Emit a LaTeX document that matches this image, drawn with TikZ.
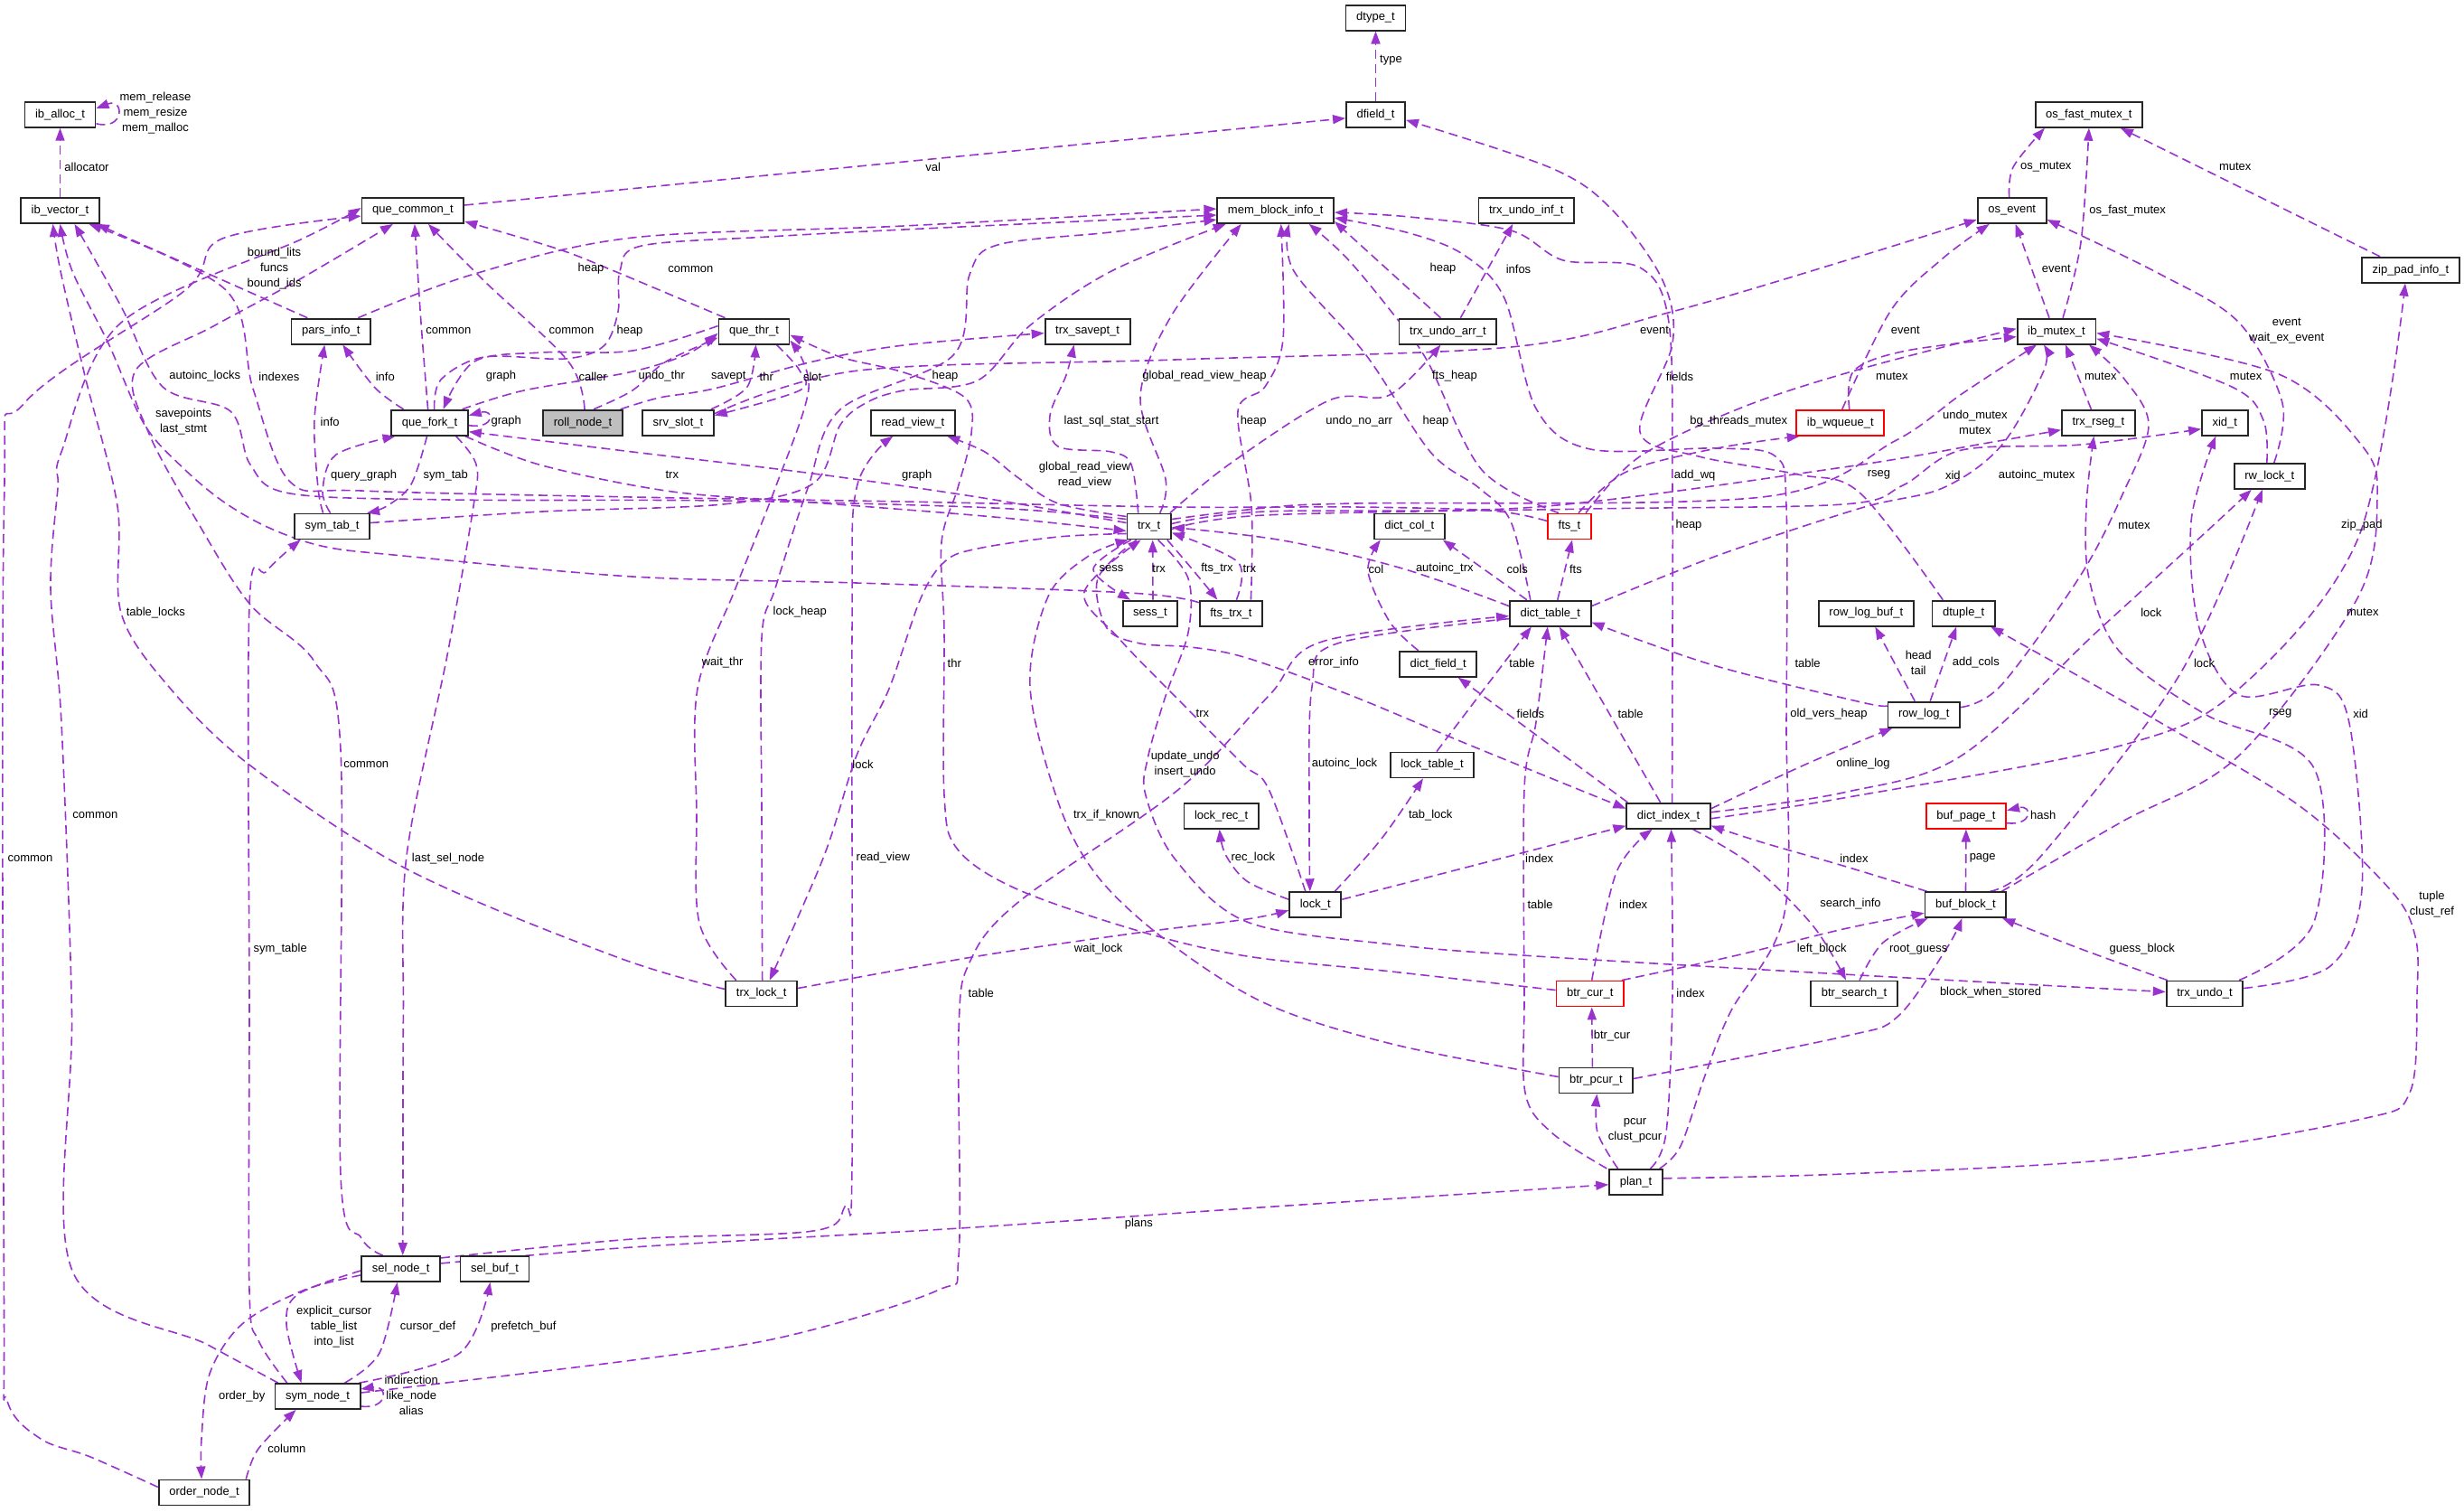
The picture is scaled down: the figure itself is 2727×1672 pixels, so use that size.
\documentclass[tikz,border=0pt]{standalone}
\usepackage{fontspec}
\setmainfont{Liberation Sans}
\usetikzlibrary{arrows.meta,calc}
\definecolor{ecol}{HTML}{9A32CD}
\pgfdeclarelayer{bg}
\pgfsetlayers{bg,main}
\newcommand\gf{\fontsize{6.5}{8.5}\selectfont}
\newcommand\pe[1]{\draw[ed] plot[smooth,tension=0.55] coordinates {#1};}
\tikzset{
 nb/.style={draw=black!85, line width=0.9pt, minimum height=14pt, inner xsep=5.8pt, inner ysep=0pt, font=\gf, fill=white},
 rb/.style={nb, draw=red},
 lb/.style={font=\gf, inner sep=0pt, align=center},
 ed/.style={draw=ecol, line width=0.8pt, dash pattern=on 5pt off 2.8pt, -{Triangle[length=7pt,width=5pt]}},
}
\begin{document}
\begin{tikzpicture}[x=0.5pt,y=-0.5pt]
\useasboundingbox (0,0) rectangle (2727,1672);
% ---------------- nodes
\node[nb] (alloc) at (66.5,126.8) {ib\_alloc\_t};
\node[nb] (vec) at (66.5,233) {ib\_vector\_t};
\node[nb] (qcom) at (456.9,233) {que\_common\_t};
\node[nb] (mem) at (1411.7,233) {mem\_block\_info\_t};
\node[nb] (dtype) at (1522.5,19.6) {dtype\_t};
\node[nb] (dfield) at (1522.5,126.8) {dfield\_t};
\node[nb] (undoinf) at (1689.3,233) {trx\_undo\_inf\_t};
\node[nb] (osev) at (2226.7,233) {os\_event};
\node[nb] (osfm) at (2311.9,126.8) {os\_fast\_mutex\_t};
\node[nb] (zip) at (2668,298.7) {zip\_pad\_info\_t};
\node[nb] (pars) at (366.3,366.6) {pars\_info\_t};
\node[nb] (qthr) at (834.5,366.6) {que\_thr\_t};
\node[nb] (savept) at (1203.6,366.6) {trx\_savept\_t};
\node[nb] (undoarr) at (1602.4,366.6) {trx\_undo\_arr\_t};
\node[nb] (mutex) at (2276,366.6) {ib\_mutex\_t};
\node[nb] (qfork) at (475.6,467.7) {que\_fork\_t};
\node[nb,fill=gray!50] (roll) at (645,467.7) {roll\_node\_t};
\node[nb] (slot) at (750.5,467.7) {srv\_slot\_t};
\node[nb] (rview) at (1010.3,467.7) {read\_view\_t};
\node[rb] (wq) at (2036.8,467.7) {ib\_wqueue\_t};
\node[nb] (rseg) at (2322.4,467.7) {trx\_rseg\_t};
\node[nb] (xid) at (2462.3,467.7) {xid\_t};
\node[nb] (rw) at (2511.8,526.9) {rw\_lock\_t};
\node[nb] (symtab) at (367.6,582.5) {sym\_tab\_t};
\node[nb] (trx) at (1271.7,582.5) {trx\_t};
\node[nb] (col) at (1559.8,582.5) {dict\_col\_t};
\node[rb] (fts) at (1737,582.5) {fts\_t};
\node[nb] (sess) at (1273,678.6) {sess\_t};
\node[nb] (ftstrx) at (1362.4,678.6) {fts\_trx\_t};
\node[nb] (table) at (1715.8,678.6) {dict\_table\_t};
\node[nb] (rlbuf) at (2065.3,678.6) {row\_log\_buf\_t};
\node[nb] (dtuple) at (2173.2,678.6) {dtuple\_t};
\node[nb] (field) at (1591.7,734.7) {dict\_field\_t};
\node[nb] (rlog) at (2129.2,790.6) {row\_log\_t};
\node[nb] (ltab) at (1585,846.4) {lock\_table\_t};
\node[nb] (lrec) at (1351.7,902.7) {lock\_rec\_t};
\node[nb] (index) at (1846.6,902.7) {dict\_index\_t};
\node[rb] (page) at (2176,902.7) {buf\_page\_t};
\node[nb] (lock) at (1455.8,1001.2) {lock\_t};
\node[nb] (block) at (2175.4,1001.2) {buf\_block\_t};
\node[nb] (trxlock) at (842.7,1099.5) {trx\_lock\_t};
\node[rb] (btrcur) at (1759.7,1099.5) {btr\_cur\_t};
\node[nb] (bsearch) at (2052,1099.5) {btr\_search\_t};
\node[nb] (undo) at (2440,1099.5) {trx\_undo\_t};
\node[nb] (pcur) at (1766.4,1195.5) {btr\_pcur\_t};
\node[nb] (plan) at (1810.5,1307.8) {plan\_t};
\node[nb] (sel) at (443.7,1403.9) {sel\_node\_t};
\node[nb] (selbuf) at (547.5,1403.9) {sel\_buf\_t};
\node[nb] (symnode) at (351.6,1545) {sym\_node\_t};
\node[nb] (order) at (226.1,1651.5) {order\_node\_t};
% ---------------- labels
\node[lb] (l1) at (172,125) {mem\_release\\mem\_resize\\mem\_malloc};
\node[lb] (l2) at (96,184.6) {allocator};
\node[lb] (l3) at (1539.5,66.8) {type};
\node[lb] (l4) at (1032.7,184.6) {val};
\node[lb] (l5) at (2264.3,184.6) {os\_mutex};
\node[lb] (l6) at (2473.7,184.6) {mutex};
\node[lb] (l7) at (2354.6,232.8) {os\_fast\_mutex};
\node[lb] (l8) at (2275.7,297.5) {event};
\node[lb] (l9) at (2530.7,365.6) {event\\wait\_ex\_event};
\node[lb] (l10) at (2108.8,365.7) {event};
\node[lb] (l11) at (1831,365.7) {event};
\node[lb] (l12) at (2093.9,416.4) {mutex};
\node[lb] (l13) at (2324.8,416.4) {mutex};
\node[lb] (l14) at (2485.6,416.4) {mutex};
\node[lb] (l15) at (2185.9,466.9) {undo\_mutex\\mutex};
\node[lb] (l16) at (2254.2,525.7) {autoinc\_mutex};
\node[lb] (l17) at (2079.4,525.7) {rseg};
\node[lb] (l18) at (2161.4,525.7) {xid};
\node[lb] (l19) at (1875.6,525.7) {add\_wq};
\node[lb] (l20) at (1924.3,466.4) {bg\_threads\_mutex};
\node[lb] (l21) at (303.6,297.5) {bound\_lits\\funcs\\bound\_ids};
\node[lb] (l22) at (654,297.5) {heap};
\node[lb] (l23) at (496.4,365.7) {common};
\node[lb] (l24) at (632.5,365.7) {common};
\node[lb] (l25) at (697,365.7) {heap};
\node[lb] (l26) at (226.8,416.4) {autoinc\_locks};
\node[lb] (l27) at (308.9,416.4) {indexes};
\node[lb] (l28) at (426.3,416.4) {info};
\node[lb] (l29) at (554.4,416.4) {graph};
\node[lb] (l30) at (656.2,416.4) {caller};
\node[lb] (l31) at (203.1,466.9) {savepoints\\last\_stmt};
\node[lb] (l32) at (365.2,466.4) {info};
\node[lb] (l33) at (560.2,466.4) {graph};
\node[lb] (l34) at (402.7,525.7) {query\_graph};
\node[lb] (l35) at (493.3,525.7) {sym\_tab};
\node[lb] (l36) at (764.4,297.8) {common};
\node[lb] (l37) at (732.2,416.4) {undo\_thr};
\node[lb] (l38) at (806.3,416.4) {savept};
\node[lb] (l39) at (848.3,416.4) {thr};
\node[lb] (l40) at (899.2,416.4) {slot};
\node[lb] (l41) at (1046,416.4) {heap};
\node[lb] (l42) at (1230,466.4) {last\_sql\_stat\_start};
\node[lb] (l43) at (1333,416.4) {global\_read\_view\_heap};
\node[lb] (l44) at (1014.8,525.7) {graph};
\node[lb] (l45) at (1200.5,525.6) {global\_read\_view\\read\_view};
\node[lb] (l46) at (743.8,525.7) {trx};
\node[lb] (l47) at (1597,297.5) {heap};
\node[lb] (l48) at (1680.5,297.5) {infos};
\node[lb] (l49) at (1610,416.4) {fts\_heap};
\node[lb] (l50) at (1859,416.4) {fields};
\node[lb] (l51) at (1387.2,466.4) {heap};
\node[lb] (l52) at (1504.2,466.4) {undo\_no\_arr};
\node[lb] (l53) at (1589,466.4) {heap};
\node[lb] (l54) at (172.3,677.6) {table\_locks};
\node[lb] (l55) at (405.3,845.9) {common};
\node[lb] (l56) at (105.4,901.8) {common};
\node[lb] (l57) at (33.5,949.9) {common};
\node[lb] (l58) at (496,949.9) {last\_sel\_node};
\node[lb] (l59) at (310.2,1050.5) {sym\_table};
\node[lb] (l60) at (1230,629.5) {sess};
\node[lb] (l61) at (1282.6,629.5) {trx};
\node[lb] (l62) at (1347,629.5) {fts\_trx};
\node[lb] (l63) at (1382.8,629.5) {trx};
\node[lb] (l64) at (885.3,677.6) {lock\_heap};
\node[lb] (l65) at (799.6,733.5) {wait\_thr};
\node[lb] (l66) at (1056.3,733.5) {thr};
\node[lb] (l67) at (1330.9,789.7) {trx};
\node[lb] (l68) at (1311.7,845.5) {update\_undo\\insert\_undo};
\node[lb] (l69) at (955,845.5) {lock};
\node[lb] (l70) at (1224.6,901.8) {trx\_if\_known};
\node[lb] (l71) at (977.3,949.5) {read\_view};
\node[lb] (l72) at (1215.7,1050.5) {wait\_lock};
\node[lb] (l73) at (1085.8,1098.5) {table};
\node[lb] (l74) at (1869,581.4) {heap};
\node[lb] (l75) at (1523,629.5) {col};
\node[lb] (l76) at (1598.8,629.5) {autoinc\_trx};
\node[lb] (l77) at (1679.2,629.5) {cols};
\node[lb] (l78) at (1743.9,629.5) {fts};
\node[lb] (l79) at (1476,733.5) {error\_info};
\node[lb] (l80) at (1684.5,733.5) {table};
\node[lb] (l81) at (2000.6,733.5) {table};
\node[lb] (l82) at (1693.9,789.7) {fields};
\node[lb] (l83) at (1804.6,789.7) {table};
\node[lb] (l84) at (2024,789.7) {old\_vers\_heap};
\node[lb] (l85) at (1488,845.5) {autoinc\_lock};
\node[lb] (l86) at (2062,845.5) {online\_log};
\node[lb] (l87) at (1583.2,901.8) {tab\_lock};
\node[lb] (l88) at (1386.8,949.5) {rec\_lock};
\node[lb] (l89) at (1703.7,949.5) {index};
\node[lb] (l90) at (2052,949.5) {index};
\node[lb] (l91) at (1704.6,1000.5) {table};
\node[lb] (l92) at (1807.7,1000.5) {index};
\node[lb] (l93) at (2048,1000.5) {search\_info};
\node[lb] (l94) at (2016.2,1050.5) {left\_block};
\node[lb] (l95) at (1871,1098.5) {index};
\node[lb] (l96) at (2362,581.4) {mutex};
\node[lb] (l97) at (2613.9,581.4) {zip\_pad};
\node[lb] (l98) at (2380.8,677.6) {lock};
\node[lb] (l99) at (2614.8,677.6) {mutex};
\node[lb] (l100) at (2123.2,733.2) {head\\tail};
\node[lb] (l101) at (2186.8,733.5) {add\_cols};
\node[lb] (l102) at (2439.6,733.5) {lock};
\node[lb] (l103) at (2523.7,789.7) {rseg};
\node[lb] (l104) at (2612.6,789.7) {xid};
\node[lb] (l105) at (2261.2,901.8) {hash};
\node[lb] (l106) at (2194.2,949.5) {page};
\node[lb] (l107) at (2691.5,1000.1) {tuple\\clust\_ref};
\node[lb] (l108) at (2123.2,1050.5) {root\_guess};
\node[lb] (l109) at (2370.8,1050.5) {guess\_block};
\node[lb] (l110) at (2203,1098.5) {block\_when\_stored};
\node[lb] (l111) at (369.6,1468) {explicit\_cursor\\table\_list\\into\_list};
\node[lb] (l112) at (473.6,1468.5) {cursor\_def};
\node[lb] (l113) at (579.4,1468.5) {prefetch\_buf};
\node[lb] (l114) at (455.3,1544) {indirection\\like\_node\\alias};
\node[lb] (l115) at (267.8,1545) {order\_by};
\node[lb] (l116) at (317.4,1602.7) {column};
\node[lb] (l117) at (1260.3,1354.6) {plans};
\node[lb] (l118) at (1784,1146.3) {btr\_cur};
\node[lb] (l119) at (1809.5,1251.2) {pcur\\clust\_pcur};
% ---------------- edges
\begin{pgfonlayer}{bg}
\draw[ed] ($(alloc.east)+(0,10)$) .. controls (138,145) and (138,108) .. ($(alloc.east)+(0,-7)$);
\draw[ed] ($(page.east)+(0,8)$) .. controls (2250,914) and (2250,890) .. ($(page.east)+(0,-6)$);
\draw[ed] ($(symnode.east)+(0,11)$) .. controls (430,1560) and (430,1532) .. ($(symnode.east)+(0,-8)$);
\draw[ed] ($(qfork.east)+(0,3)$) .. controls (548,475) and (548,452) .. ($(qfork.east)+(0,-8)$);
\draw[ed] (vec) -- (alloc);
\draw[ed] (dfield) -- (dtype);
\draw[ed] ($(qcom.east)+(0,-6)$) -- ($(dfield.west)+(0,4)$);
\pe{($(osev.north)+(-3,0)$) (2228,185) ($(osfm.south)+(-49,0)$)}
\pe{($(mutex.north)+(7,0)$) (2303,268) ($(osfm.south)+(0,0)$)}
\draw[ed] ($(zip.north)+(-34,0)$) -- ($(osfm.south)+(35,0)$);
\draw[ed] ($(mutex.north)+(-8,0)$) -- ($(osev.south)+(4,0)$);
\pe{($(rw.north)+(5,0)$) (2526,446) (2478,357) (2390,303) ($(osev.east)+(0,10)$)}
\pe{($(wq.north)+(2,0)$) (2093,343) (2150,286) ($(osev.south)+(-25,0)$)}
\pe{($(slot.east)+(0,-10)$) (950,410) (1300,398) (1672,384) (1850,345) (2060,283) ($(osev.west)+(0,10)$)}
\pe{($(wq.north)+(10,0)$) (2052,410) (2110,388) ($(mutex.west)+(0,6)$)}
\pe{($(fts.north)+(10,0)$) (1800,522) (1900,496) ($(wq.south)+(-45,0)$)}
\pe{($(fts.north)+(18,0)$) (1815,505) (1930,450) (2060,408) ($(mutex.west)+(0,-3)$)}
\pe{($(trx.east)+(0,-8)$) (1400,562) (1500,557) (1950,550) (2097,488) (2171,436) ($(mutex.south)+(-22,0)$)}
\pe{($(trx.east)+(0,-3)$) (1400,566) (1700,561) (2040,517) (2200,490) ($(rseg.west)+(0,8)$)}
\pe{($(trx.east)+(0,3)$) (1400,570) (1760,563) (2040,558) (2106,537) (2171,498) (2303,492) ($(xid.west)+(0,7)$)}
\pe{($(table.east)+(0,-8)$) (1900,615) (2060,562) (2150,540) (2215,493) (2262,410) ($(mutex.south)+(-14,0)$)}
\draw[ed] ($(rseg.north)+(-8,0)$) -- ($(mutex.south)+(10,0)$);
\pe{($(rw.north)+(-3,0)$) (2505,465) (2470,428) ($(mutex.east)+(0,8)$)}
\pe{($(block.north)+(40,0)$) (2347,910) (2478,836) (2609,662) (2631,550) (2614,493) (2522,414) ($(mutex.east)+(0,2)$)}
\pe{($(rlog.east)+(0,-8)$) (2215,758) (2303,636) (2350,545) (2378,470) (2350,418) ($(mutex.south)+(36,0)$)}
\pe{($(index.east)+(0,-4)$) (2040,877) (2171,836) (2325,695) (2440,590) ($(rw.south)+(-20,0)$)}
\pe{($(block.north)+(27,0)$) (2259,947) (2412,747) ($(rw.south)+(-8,0)$)}
\pe{($(index.east)+(0,3)$) (2040,883) (2347,825) (2478,762) (2610,595) ($(zip.south)+(-6,0)$)}
\pe{($(undo.north)+(38,0)$) (2561,1020) (2561,850) (2440,790) (2345,720) (2312,640) (2309,560) ($(rseg.south)+(-5,0)$)}
\pe{($(undo.east)+(0,-6)$) (2579,1069) (2614,984) (2600,800) (2566,758) (2478,769) (2434,695) (2425,577) ($(xid.south)+(-10,0)$)}
\pe{($(plan.east)+(0,-4)$) (2040,1299) (2347,1282) (2610,1239) (2667,1209) (2675,1100) (2673,1036) (2645,984) (2544,891) (2390,799) ($(dtuple.south)+(30,0)$)}
\pe{($(sel.east)+(0,-6)$) (700,1380) (1062,1359) (1380,1337) ($(plan.west)+(0,3)$)}
\pe{($(sel.east)+(0,-12)$) (700,1371) (900,1362) (935,1335) (943,1290) (943,700) (948,540) ($(rview.south)+(-22,0)$)}
\pe{($(symnode.east)+(0,-4)$) (700,1505) (868,1479) (1037,1428) (1061,1390) (1061,1140) (1073,1065) (1126,999) (1305,873) (1405,769) (1463,710) ($(table.west)+(0,3)$)}
\pe{($(trxlock.east)+(0,-6)$) (1082,1058) (1260,1032) (1380,1017) ($(lock.west)+(0,6)$)}
\pe{($(trxlock.north)+(-28,0)$) (774,1021) (771,900) (772,762) (814,651) (858,540) (895,430) ($(qthr.east)+(0,10)$)}
\pe{($(trxlock.north)+(1,0)$) (843,900) (843,706) (858,651) (894,540) (930,453) (1055,393) (1073,304) (1104,271) (1229,257) ($(mem.west)+(0,10)$)}
\pe{($(trx.west)+(0,8)$) (1171,594) (1082,607) (1046,621) (1019,662) (984,762) (948,836) (912,947) ($(trxlock.north)+(9,0)$)}
\pe{($(trxlock.west)+(0,-5)$) (680,1058) (451,962) (277,847) (187,760) (134,678) (130,560) (95,420) (67,300) ($(vec.south)+(-8,0)$)}
\pe{($(trx.west)+(0,-8)$) (1100,562) (800,554) (500,553) (321,546) (277,514) (255,455) (180,428) (134,339) ($(vec.south)+(16,0)$)}
\pe{($(fts.west)+(0,-6)$) (1650,565) (1500,561) (1300,561) (1000,555) (700,550) (400,543) (321,533) (280,430) (250,321) ($(vec.south)+(32,0)$)}
\pe{($(ftstrx.north west)+(0,3)$) (1250,656) (948,645) (700,638) (446,615) (360,605) (300,585) (250,557) (205,520) (160,470) (120,380) (80,300) ($(vec.south)+(0,0)$)}
\draw[ed] ($(pars.north)+(-26,0)$) -- ($(vec.south east)+(-4,0)$);
\pe{($(pars.north)+(30,0)$) (522,304) (700,263) (1000,250) ($(mem.west)+(0,-2)$)}
\pe{($(qfork.north)+(-29,0)$) (415,429) ($(pars.south)+(13,0)$)}
\pe{($(symtab.north)+(-10,0)$) (352,540) (348,464) ($(pars.south)+(-7,0)$)}
\pe{($(qfork.north)+(-2,0)$) (466,357) ($(qcom.south)+(2,0)$)}
\pe{($(roll.north)+(2,0)$) (629,400) (536,311) ($(qcom.south)+(17,0)$)}
\pe{($(qthr.north)+(-32,0)$) (680,300) (616,275) ($(qcom.east)+(0,12)$)}
\pe{($(roll.north)+(12,0)$) (700,432) (734,402) (780,380) ($(qthr.west)+(0,7)$)}
\pe{($(qfork.north)+(36,0)$) (580,432) (696,412) (760,392) ($(qthr.west)+(0,2)$)}
\pe{($(qthr.west)+(0,-6)$) (700,388) (600,390) (525,400) ($(qfork.north)+(15,0)$)}
\pe{($(slot.north east)+(-4,0)$) (827,428) ($(qthr.south)+(2,0)$)}
\pe{($(qthr.south)+(25,0)$) (885,410) (885,432) ($(slot.east)+(0,-8)$)}
\pe{($(roll.north east)+(-3,0)$) (730,440) (790,430) (900,400) (1000,382) ($(savept.west)+(0,2)$)}
\pe{($(symtab.east)+(0,-4)$) (600,566) (800,558) (900,535) (930,470) (960,445) (1000,432) (1082,421) (1140,360) (1230,300) ($(mem.south)+(-55,0)$)}
\pe{($(qfork.north)+(5,0)$) (488,420) (536,395) (625,397) (668,383) (684,345) (686,300) (710,272) (850,262) (1000,254) ($(mem.west)+(0,5)$)}
\pe{($(trx.north)+(12,0)$) (1290,530) (1262,440) (1296,350) ($(mem.south)+(-38,0)$)}
\pe{($(trx.north)+(-12,0)$) (1252,514) (1230,500) (1171,494) (1162,460) (1180,415) ($(savept.south)+(-15,0)$)}
\pe{($(trx.west)+(0,-11)$) (1171,557) (1126,528) (1090,500) ($(rview.south)+(38,0)$)}
\pe{($(trx.west)+(0,-4)$) (1082,550) (900,524) (700,500) (570,484) ($(qfork.east)+(0,10)$)}
\pe{($(qfork.south east)+(-4,0)$) (600,515) (744,544) (900,556) (1100,572) ($(trx.west)+(0,5)$)}
\pe{($(trx.south)+(-20,0)$) (1210,630) ($(sess.north)+(-22,0)$)}
\draw[ed] ($(sess.north)+(3,0)$) -- ($(trx.south)+(4,0)$);
\pe{($(trx.south east)+(-5,0)$) (1318,628) ($(ftstrx.north)+(-15,0)$)}
\pe{($(ftstrx.north)+(6,0)$) (1370,622) ($(trx.east)+(0,7)$)}
\pe{($(lock.north)+(-11,0)$) (1404,873) (1375,845) (1300,770) (1238,706) (1200,655) ($(trx.south)+(-9,0)$)}
\pe{($(pcur.west)+(0,-4)$) (1540,1155) (1400,1110) (1290,1040) (1215,970) (1172,890) (1140,760) (1160,660) (1205,615) ($(trx.south west)+(2,0)$)}
\pe{($(trx.south)+(10,0)$) (1315,640) (1315,700) (1290,770) (1270,840) (1268,880) (1300,950) (1380,1020) (1540,1045) (1700,1058) (2040,1078) ($(undo.west)+(0,-2)$)}
\pe{($(trx.south)+(-14,0)$) (1215,640) (1225,695) (1262,712) (1318,716) (1380,728) (1494,769) (1628,825) ($(index.west)+(0,-8)$)}
\draw[ed] ($(index.north west)+(2,0)$) -- ($(field.south)+(22,0)$);
\draw[ed] ($(index.north)+(-9,0)$) -- ($(table.south)+(10,0)$);
\draw[ed] ($(ltab.north)+(5,0)$) -- ($(table.south)+(-21,0)$);
\draw[ed] ($(table.north)+(-26,0)$) -- ($(col.south)+(37,0)$);
\pe{($(field.north)+(-22,0)$) (1538,688) (1514,632) ($(col.south)+(-32,0)$)}
\draw[ed] ($(table.north)+(8,0)$) -- ($(fts.south)+(3,0)$);
\pe{($(table.west)+(0,-8)$) (1552,629) (1420,598) ($(trx.east)+(0,1)$)}
\pe{($(table.west)+(0,6)$) (1480,712) (1452,760) (1449,900) ($(lock.north)+(-6,0)$)}
\pe{($(lock.north east)+(-8,0)$) (1529,928) ($(ltab.south)+(-10,0)$)}
\pe{($(lock.west)+(0,-6)$) (1380,975) (1356,945) ($(lrec.south)+(-2,0)$)}
\pe{($(lock.east)+(0,-6)$) (1672,947) ($(index.west)+(0,11)$)}
\pe{($(rlog.west)+(0,-10)$) (2060,777) (1896,736) ($(table.east)+(0,10)$)}
\draw[ed] ($(rlog.north)+(-10,0)$) -- ($(rlbuf.south)+(10,0)$);
\draw[ed] ($(rlog.north)+(7,0)$) -- ($(dtuple.south)+(-8,0)$);
\pe{($(index.east)+(0,-8)$) (2000,845) ($(rlog.south west)+(6,0)$)}
\pe{($(plan.north west)+(-2,0)$) (1717,1253) (1688,1209) (1687,1100) (1687,873) (1700,799) ($(table.south)+(-3,0)$)}
\pe{($(plan.north)+(16,0)$) (1844,1253) (1851,1100) ($(index.south)+(3,0)$)}
\pe{($(plan.north east)+(-4,0)$) (1860,1268) (1887,1190) (1915,1120) (1975,1010) (1977,800) (1977,560) (1965,505) (1900,496) (1760,497) (1700,452) (1665,330) (1620,282) (1560,258) ($(mem.east)+(0,8)$)}
\pe{($(index.north)+(4,0)$) (1851,700) (1851,540) (1847,357) (1815,296) (1730,288) (1672,255) (1560,240) ($(mem.east)+(0,2)$)}
\pe{($(table.north)+(-22,0)$) (1672,577) (1637,540) (1583,500) (1512,393) (1432,300) ($(mem.south)+(15,0)$)}
\pe{($(fts.north)+(-12,0)$) (1640,520) (1580,400) (1540,345) (1490,285) ($(mem.south)+(37,0)$)}
\pe{($(ftstrx.north)+(22,0)$) (1385,560) (1370,455) (1400,428) (1420,375) ($(mem.south)+(6,0)$)}
\draw[ed] ($(undoarr.north)+(-8,0)$) -- ($(mem.east)+(0,12)$);
\draw[ed] ($(undoarr.north)+(14,0)$) -- ($(undoinf.south)+(-15,0)$);
\pe{($(trx.north east)+(-2,0)$) (1360,514) (1471,443) (1538,437) ($(undoarr.south)+(-8,0)$)}
\pe{($(dtuple.north)+(-23,0)$) (2058,545) (1990,525) (1880,505) (1815,478) (1851,380) (1840,310) (1784,232) (1717,186) ($(dfield.east)+(0,6)$)}
\pe{($(bsearch.north)+(6,0)$) (2084,1043) ($(block.south west)+(4,0)$)}
\pe{($(btrcur.north east)+(-3,0)$) (1918,1058) (2040,1028) ($(block.west)+(0,9)$)}
\pe{($(block.north west)+(3,0)$) (2040,958) (1950,932) ($(index.east)+(0,11)$)}
\pe{($(index.south)+(27,0)$) (1940,958) (2007,1025) ($(bsearch.north)+(-9,0)$)}
\pe{($(pcur.east)+(0,-2)$) (2040,1147) (2100,1125) (2154,1050) ($(block.south)+(-4,0)$)}
\pe{($(undo.north west)+(2,0)$) (2303,1050) ($(block.south east)+(-5,0)$)}
\draw[ed] (block) -- (page);
\pe{($(btrcur.north)+(2,0)$) (1789,965) ($(index.south)+(-18,0)$)}
\draw[ed] ($(pcur.north)+(-4,0)$) -- ($(btrcur.south)+(2,0)$);
\pe{($(plan.north)+(-20,0)$) (1768,1253) ($(pcur.south)+(1,0)$)}
\pe{($(btrcur.west)+(0,-4)$) (1540,1075) (1380,1058) (1260,1030) (1126,984) (1060,940) (1045,880) (1045,700) (1042,600) (1060,540) (1075,480) (1068,440) (1000,412) (930,395) ($(qthr.east)+(0,4)$)}
\pe{($(sel.north)+(-20,0)$) (400,1370) (377,1300) (377,830) (348,732) (277,669) (220,580) (165,480) (150,410) (236,361) (330,310) ($(qcom.south)+(-22,0)$)}
\pe{($(qfork.south)+(29,0)$) (527,514) (524,560) (495,725) (450,947) (446.4,1120) (446,1300) ($(sel.north)+(2,0)$)}
\pe{($(qfork.south)+(-3,0)$) (455,536) (428,560) ($(symtab.north east)+(-4,0)$)}
\pe{($(symtab.north)+(-2,0)$) (357,543) (372,503) ($(qfork.south)+(-38,0)$)}
\pe{($(symnode.north west)+(14,0)$) (286,1483) (276,1428) (276,1120) (276,670) (295,632) ($(symtab.south)+(-35,0)$)}
\pe{($(symnode.north east)+(-18,0)$) (420,1497) ($(sel.south)+(-4,0)$)}
\pe{($(sel.west)+(0,2)$) (330,1432) (317,1465) ($(symnode.north)+(-18,0)$)}
\pe{($(symnode.north east)+(-2,0)$) (509,1497) ($(selbuf.south)+(-5,0)$)}
\pe{($(sel.west)+(0,7)$) (335,1428) (268,1465) (232,1520) (223,1592) ($(order.north)+(-3,0)$)}
\pe{($(order.north east)+(-5,0)$) (286,1603) ($(symnode.south)+(-24,0)$)}
\pe{($(order.west)+(0,-6)$) (100,1612) (45,1592) (8,1550) (4.5,1450) (4.5,560) (27,446) (205,321) (246,264) ($(qcom.west)+(0,6)$)}
\pe{($(symnode.north west)+(4,0)$) (230,1488) (80,1406) (79.5,1120) (68,800) (56,651) (64,540) (68,500) (134,357) (335,264) ($(qcom.west)+(0,-3)$)}
\end{pgfonlayer}
\end{tikzpicture}
\end{document}
